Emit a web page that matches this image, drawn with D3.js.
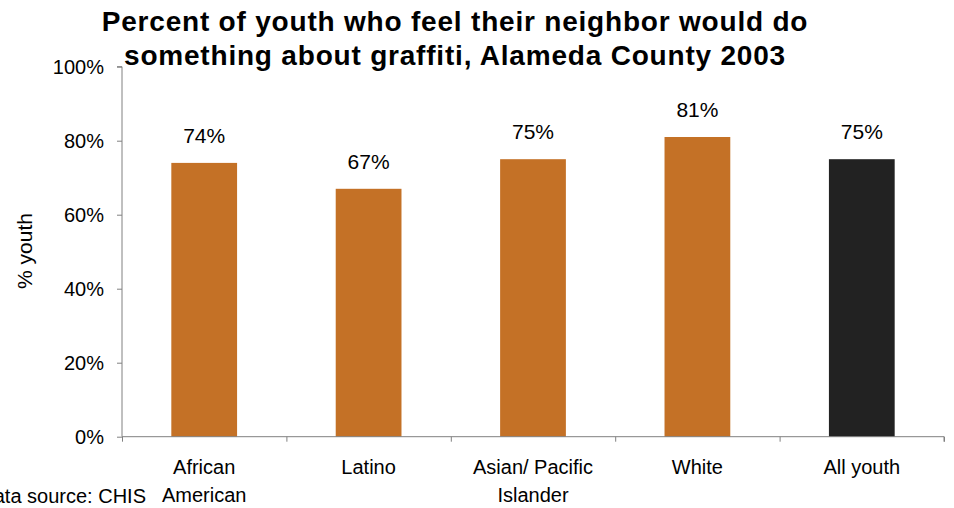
<!DOCTYPE html>
<html><head><meta charset="utf-8">
<script src="https://cdn.jsdelivr.net/npm/d3@7"></script>
<style>body{margin:0;background:#fff}svg{display:block}text{font-family:"Liberation Sans",Arial,sans-serif;fill:#000}</style>
</head><body><svg id="c" width="954" height="508"></svg>
<script>
const categories = [["African","American"],["Latino"],["Asian/ Pacific","Islander"],["White"],["All youth"]];
const values = [74, 67, 75, 81, 75];
const barColors = ["#C47126","#C47126","#C47126","#C47126","#222222"];
const yTicks = [0,20,40,60,80,100];
const titleLines = ["Percent of youth who feel their neighbor would do","something about graffiti, Alameda County 2003"];

const svg = d3.select("#c");
const x0 = 122, x1 = 944, yTop = 66.7, yBot = 436.7;
const x = d3.scaleBand().domain(d3.range(values.length)).range([x0, x1]).paddingInner(0.6).paddingOuter(0.3);
const y = d3.scaleLinear().domain([0,100]).range([yBot, yTop]);

// bars
svg.selectAll("rect.bar").data(values).join("rect")
  .attr("x",(d,i)=>x(i)).attr("width",x.bandwidth())
  .attr("y",d=>y(d)).attr("height",d=>y(0)-y(d))
  .attr("fill",(d,i)=>barColors[i]);

// value labels
svg.selectAll("text.val").data(values).join("text")
  .attr("x",(d,i)=>x(i)+x.bandwidth()/2).attr("y",d=>y(d)-20)
  .attr("text-anchor","middle").attr("font-size",21).text(d=>d+"%");

// y axis
const yAxis = d3.axisLeft(y).tickValues(yTicks).tickFormat(d=>d+"%").tickSize(5).tickPadding(13);
const gy = svg.append("g").attr("transform",`translate(${x0},0)`).call(yAxis);
gy.selectAll("text").attr("font-size",20).style("font-family","Liberation Sans, Arial, sans-serif").attr("fill","#000");
gy.selectAll("line,path").attr("stroke","#808080");
gy.select("path").attr("d",`M-5,${yTop}H0V${yBot}`);

// x axis with boundary ticks
const xb = d3.scaleLinear().domain([0,values.length]).range([x0,x1]);
const gx = svg.append("g").attr("transform",`translate(0,${yBot})`)
  .call(d3.axisBottom(xb).tickValues(d3.range(values.length+1)).tickFormat("").tickSize(5));
gx.selectAll("line,path").attr("stroke","#808080");
gx.select("path").attr("d",`M${x0},0H${x1}V5`);

// category labels
categories.forEach((lines,i)=>{
  const t = svg.append("text").attr("text-anchor","middle").attr("font-size",20)
    .attr("x",x(i)+x.bandwidth()/2).attr("y",474);
  lines.forEach((l,j)=>t.append("tspan").attr("x",x(i)+x.bandwidth()/2).attr("dy",j?28:0).text(l));
});

// y label
svg.append("text").attr("transform","translate(32,251) rotate(-90)").attr("text-anchor","middle")
  .attr("font-size",21).text("% youth");

// title
titleLines.forEach((l,i)=>svg.append("text").attr("x",455).attr("y",31+i*34).attr("text-anchor","middle")
  .attr("font-size",28).attr("font-weight","bold").attr("letter-spacing",0.8).text(l));

// source
svg.append("text").attr("x",146).attr("y",503).attr("text-anchor","end").attr("font-size",20).text("Data source: CHIS");
</script></body></html>
